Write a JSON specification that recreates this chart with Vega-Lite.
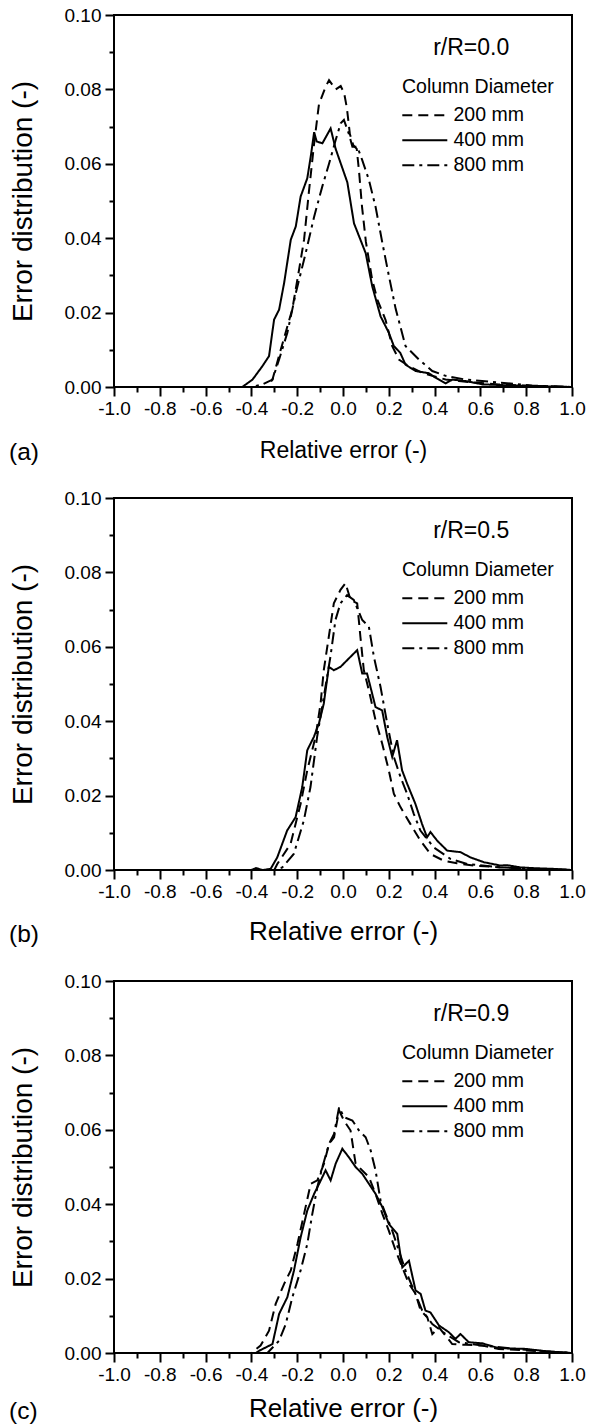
{
  "$schema": "https://vega.github.io/schema/vega-lite/v6.json",
  "background": "white",
  "padding": {"left": 8, "top": 5, "right": 5, "bottom": 5},
  "config": {
    "font": "Liberation Sans",
    "view": {"stroke": "black", "strokeWidth": 2},
    "axis": {"domain": false, "tickColor": "#000000", "tickWidth": 2, "tickSize": 9, "offset": 0, "labelColor": "black", "titleColor": "black", "grid": false, "labelFont": "Liberation Sans", "titleFont": "Liberation Sans", "titleFontWeight": "normal", "labelFontSize": 19, "labelFlush": false, "labelOverlap": false, "labelBound": false},
    "legend": {"orient": "none", "legendX": 288, "legendY": 63, "titleFont": "Liberation Sans", "titleFontSize": 19.5, "titleFontWeight": "normal", "titleColor": "black", "labelFont": "Liberation Sans", "labelFontSize": 19.5, "labelColor": "black", "symbolType": "M-2.1,0H7.9", "symbolSize": 81, "symbolStrokeWidth": 2, "symbolStrokeColor": "black", "labelOffset": 32, "rowPadding": 4, "titlePadding": 8, "padding": 0},
    "title": {"font": "Liberation Sans", "fontSize": 24.5, "fontWeight": "normal", "color": "black", "orient": "bottom", "anchor": "start", "frame": "bounds", "dy": -25}
  },
  "bounds": "flush",
  "spacing": 111,
  "resolve": {"legend": {"strokeDash": "independent"}},
  "datasets": {
    "a": [
      {"d": "200 mm", "x": -1.0, "y": 0}, {"d": "200 mm", "x": -0.33, "y": 0}, {"d": "200 mm", "x": -0.308, "y": 0.002}, {"d": "200 mm", "x": -0.272, "y": 0.010}, {"d": "200 mm", "x": -0.221, "y": 0.021}, {"d": "200 mm", "x": -0.192, "y": 0.0315}, {"d": "200 mm", "x": -0.17, "y": 0.0396}, {"d": "200 mm", "x": -0.148, "y": 0.053}, {"d": "200 mm", "x": -0.126, "y": 0.0655}, {"d": "200 mm", "x": -0.105, "y": 0.076}, {"d": "200 mm", "x": -0.076, "y": 0.0807}, {"d": "200 mm", "x": -0.061, "y": 0.0825}, {"d": "200 mm", "x": -0.032, "y": 0.080}, {"d": "200 mm", "x": -0.01, "y": 0.0809}, {"d": "200 mm", "x": 0.005, "y": 0.079}, {"d": "200 mm", "x": 0.017, "y": 0.075}, {"d": "200 mm", "x": 0.03, "y": 0.068}, {"d": "200 mm", "x": 0.045, "y": 0.065}, {"d": "200 mm", "x": 0.06, "y": 0.064}, {"d": "200 mm", "x": 0.07, "y": 0.058}, {"d": "200 mm", "x": 0.083, "y": 0.0485}, {"d": "200 mm", "x": 0.10, "y": 0.039}, {"d": "200 mm", "x": 0.127, "y": 0.029}, {"d": "200 mm", "x": 0.15, "y": 0.0235}, {"d": "200 mm", "x": 0.186, "y": 0.018}, {"d": "200 mm", "x": 0.215, "y": 0.011}, {"d": "200 mm", "x": 0.244, "y": 0.0074}, {"d": "200 mm", "x": 0.288, "y": 0.0056}, {"d": "200 mm", "x": 0.346, "y": 0.0038}, {"d": "200 mm", "x": 0.39, "y": 0.003}, {"d": "200 mm", "x": 0.448, "y": 0.002}, {"d": "200 mm", "x": 0.506, "y": 0.0016}, {"d": "200 mm", "x": 0.578, "y": 0.0012}, {"d": "200 mm", "x": 0.68, "y": 0.0007}, {"d": "200 mm", "x": 0.826, "y": 0.0003}, {"d": "200 mm", "x": 1.0, "y": 0},
      {"d": "400 mm", "x": -1.0, "y": 0}, {"d": "400 mm", "x": -0.44, "y": 0}, {"d": "400 mm", "x": -0.395, "y": 0.002}, {"d": "400 mm", "x": -0.352, "y": 0.0056}, {"d": "400 mm", "x": -0.323, "y": 0.0083}, {"d": "400 mm", "x": -0.301, "y": 0.0181}, {"d": "400 mm", "x": -0.279, "y": 0.0208}, {"d": "400 mm", "x": -0.257, "y": 0.028}, {"d": "400 mm", "x": -0.228, "y": 0.0396}, {"d": "400 mm", "x": -0.206, "y": 0.0432}, {"d": "400 mm", "x": -0.185, "y": 0.0512}, {"d": "400 mm", "x": -0.156, "y": 0.0561}, {"d": "400 mm", "x": -0.141, "y": 0.0619}, {"d": "400 mm", "x": -0.126, "y": 0.0685}, {"d": "400 mm", "x": -0.115, "y": 0.066}, {"d": "400 mm", "x": -0.09, "y": 0.0655}, {"d": "400 mm", "x": -0.054, "y": 0.0695}, {"d": "400 mm", "x": -0.032, "y": 0.064}, {"d": "400 mm", "x": 0.019, "y": 0.055}, {"d": "400 mm", "x": 0.048, "y": 0.044}, {"d": "400 mm", "x": 0.099, "y": 0.036}, {"d": "400 mm", "x": 0.128, "y": 0.027}, {"d": "400 mm", "x": 0.164, "y": 0.019}, {"d": "400 mm", "x": 0.20, "y": 0.0146}, {"d": "400 mm", "x": 0.222, "y": 0.011}, {"d": "400 mm", "x": 0.25, "y": 0.0092}, {"d": "400 mm", "x": 0.273, "y": 0.006}, {"d": "400 mm", "x": 0.317, "y": 0.0043}, {"d": "400 mm", "x": 0.375, "y": 0.0037}, {"d": "400 mm", "x": 0.404, "y": 0.0025}, {"d": "400 mm", "x": 0.448, "y": 0.001}, {"d": "400 mm", "x": 0.477, "y": 0.002}, {"d": "400 mm", "x": 0.535, "y": 0.0016}, {"d": "400 mm", "x": 0.61, "y": 0.0007}, {"d": "400 mm", "x": 0.75, "y": 0.0004}, {"d": "400 mm", "x": 1.0, "y": 0},
      {"d": "800 mm", "x": -1.0, "y": 0}, {"d": "800 mm", "x": -0.40, "y": 0}, {"d": "800 mm", "x": -0.352, "y": 0.0007}, {"d": "800 mm", "x": -0.308, "y": 0.002}, {"d": "800 mm", "x": -0.279, "y": 0.0074}, {"d": "800 mm", "x": -0.243, "y": 0.0146}, {"d": "800 mm", "x": -0.206, "y": 0.0253}, {"d": "800 mm", "x": -0.163, "y": 0.036}, {"d": "800 mm", "x": -0.126, "y": 0.0458}, {"d": "800 mm", "x": -0.09, "y": 0.054}, {"d": "800 mm", "x": -0.061, "y": 0.060}, {"d": "800 mm", "x": -0.032, "y": 0.0664}, {"d": "800 mm", "x": -0.01, "y": 0.0709}, {"d": "800 mm", "x": 0.004, "y": 0.0718}, {"d": "800 mm", "x": 0.026, "y": 0.068}, {"d": "800 mm", "x": 0.041, "y": 0.0646}, {"d": "800 mm", "x": 0.0625, "y": 0.0646}, {"d": "800 mm", "x": 0.084, "y": 0.061}, {"d": "800 mm", "x": 0.113, "y": 0.0557}, {"d": "800 mm", "x": 0.142, "y": 0.0485}, {"d": "800 mm", "x": 0.172, "y": 0.0387}, {"d": "800 mm", "x": 0.20, "y": 0.030}, {"d": "800 mm", "x": 0.23, "y": 0.021}, {"d": "800 mm", "x": 0.273, "y": 0.011}, {"d": "800 mm", "x": 0.331, "y": 0.0074}, {"d": "800 mm", "x": 0.39, "y": 0.0043}, {"d": "800 mm", "x": 0.448, "y": 0.003}, {"d": "800 mm", "x": 0.535, "y": 0.002}, {"d": "800 mm", "x": 0.68, "y": 0.0012}, {"d": "800 mm", "x": 0.826, "y": 0.0004}, {"d": "800 mm", "x": 1.0, "y": 0}
    ],
    "b": [
      {"d": "200 mm", "x": -1.0, "y": 0}, {"d": "200 mm", "x": -0.30, "y": 0}, {"d": "200 mm", "x": -0.287, "y": 0.0016}, {"d": "200 mm", "x": -0.229, "y": 0.007}, {"d": "200 mm", "x": -0.185, "y": 0.0178}, {"d": "200 mm", "x": -0.156, "y": 0.0268}, {"d": "200 mm", "x": -0.12, "y": 0.0358}, {"d": "200 mm", "x": -0.098, "y": 0.0447}, {"d": "200 mm", "x": -0.084, "y": 0.0537}, {"d": "200 mm", "x": -0.062, "y": 0.0627}, {"d": "200 mm", "x": -0.04, "y": 0.0717}, {"d": "200 mm", "x": -0.011, "y": 0.0753}, {"d": "200 mm", "x": 0.011, "y": 0.0771}, {"d": "200 mm", "x": 0.033, "y": 0.0726}, {"d": "200 mm", "x": 0.062, "y": 0.0717}, {"d": "200 mm", "x": 0.076, "y": 0.0627}, {"d": "200 mm", "x": 0.091, "y": 0.0537}, {"d": "200 mm", "x": 0.113, "y": 0.0483}, {"d": "200 mm", "x": 0.142, "y": 0.0403}, {"d": "200 mm", "x": 0.171, "y": 0.034}, {"d": "200 mm", "x": 0.2, "y": 0.0268}, {"d": "200 mm", "x": 0.222, "y": 0.0205}, {"d": "200 mm", "x": 0.251, "y": 0.0169}, {"d": "200 mm", "x": 0.294, "y": 0.0124}, {"d": "200 mm", "x": 0.338, "y": 0.0079}, {"d": "200 mm", "x": 0.382, "y": 0.0043}, {"d": "200 mm", "x": 0.44, "y": 0.0025}, {"d": "200 mm", "x": 0.498, "y": 0.0018}, {"d": "200 mm", "x": 0.571, "y": 0.0012}, {"d": "200 mm", "x": 0.687, "y": 0.0007}, {"d": "200 mm", "x": 0.833, "y": 0.0003}, {"d": "200 mm", "x": 1.0, "y": 0},
      {"d": "400 mm", "x": -1.0, "y": 0}, {"d": "400 mm", "x": -0.40, "y": 0}, {"d": "400 mm", "x": -0.38, "y": 0.0005}, {"d": "400 mm", "x": -0.35, "y": 0}, {"d": "400 mm", "x": -0.316, "y": 0.0003}, {"d": "400 mm", "x": -0.287, "y": 0.0034}, {"d": "400 mm", "x": -0.244, "y": 0.0106}, {"d": "400 mm", "x": -0.207, "y": 0.0142}, {"d": "400 mm", "x": -0.178, "y": 0.0223}, {"d": "400 mm", "x": -0.156, "y": 0.0322}, {"d": "400 mm", "x": -0.127, "y": 0.0358}, {"d": "400 mm", "x": -0.105, "y": 0.0394}, {"d": "400 mm", "x": -0.084, "y": 0.0447}, {"d": "400 mm", "x": -0.062, "y": 0.0546}, {"d": "400 mm", "x": -0.04, "y": 0.0537}, {"d": "400 mm", "x": -0.011, "y": 0.0546}, {"d": "400 mm", "x": 0.018, "y": 0.0564}, {"d": "400 mm", "x": 0.062, "y": 0.0591}, {"d": "400 mm", "x": 0.084, "y": 0.0528}, {"d": "400 mm", "x": 0.105, "y": 0.0528}, {"d": "400 mm", "x": 0.12, "y": 0.0492}, {"d": "400 mm", "x": 0.142, "y": 0.0438}, {"d": "400 mm", "x": 0.171, "y": 0.0429}, {"d": "400 mm", "x": 0.193, "y": 0.0358}, {"d": "400 mm", "x": 0.215, "y": 0.0304}, {"d": "400 mm", "x": 0.236, "y": 0.0349}, {"d": "400 mm", "x": 0.258, "y": 0.0268}, {"d": "400 mm", "x": 0.28, "y": 0.0232}, {"d": "400 mm", "x": 0.316, "y": 0.0178}, {"d": "400 mm", "x": 0.345, "y": 0.0124}, {"d": "400 mm", "x": 0.367, "y": 0.0088}, {"d": "400 mm", "x": 0.382, "y": 0.0102}, {"d": "400 mm", "x": 0.411, "y": 0.0079}, {"d": "400 mm", "x": 0.455, "y": 0.0052}, {"d": "400 mm", "x": 0.513, "y": 0.0048}, {"d": "400 mm", "x": 0.556, "y": 0.0034}, {"d": "400 mm", "x": 0.615, "y": 0.0021}, {"d": "400 mm", "x": 0.687, "y": 0.0012}, {"d": "400 mm", "x": 0.716, "y": 0.0013}, {"d": "400 mm", "x": 0.775, "y": 0.0007}, {"d": "400 mm", "x": 0.833, "y": 0.0005}, {"d": "400 mm", "x": 0.92, "y": 0.0003}, {"d": "400 mm", "x": 1.0, "y": 0},
      {"d": "800 mm", "x": -1.0, "y": 0}, {"d": "800 mm", "x": -0.30, "y": 0}, {"d": "800 mm", "x": -0.265, "y": 0.0007}, {"d": "800 mm", "x": -0.215, "y": 0.0043}, {"d": "800 mm", "x": -0.171, "y": 0.0133}, {"d": "800 mm", "x": -0.142, "y": 0.0223}, {"d": "800 mm", "x": -0.113, "y": 0.0358}, {"d": "800 mm", "x": -0.084, "y": 0.0465}, {"d": "800 mm", "x": -0.055, "y": 0.0573}, {"d": "800 mm", "x": -0.033, "y": 0.0672}, {"d": "800 mm", "x": -0.011, "y": 0.0717}, {"d": "800 mm", "x": 0.018, "y": 0.0739}, {"d": "800 mm", "x": 0.047, "y": 0.0726}, {"d": "800 mm", "x": 0.084, "y": 0.0672}, {"d": "800 mm", "x": 0.113, "y": 0.0654}, {"d": "800 mm", "x": 0.135, "y": 0.0573}, {"d": "800 mm", "x": 0.164, "y": 0.0492}, {"d": "800 mm", "x": 0.193, "y": 0.0394}, {"d": "800 mm", "x": 0.222, "y": 0.0304}, {"d": "800 mm", "x": 0.251, "y": 0.025}, {"d": "800 mm", "x": 0.28, "y": 0.0205}, {"d": "800 mm", "x": 0.309, "y": 0.0151}, {"d": "800 mm", "x": 0.338, "y": 0.0106}, {"d": "800 mm", "x": 0.396, "y": 0.0061}, {"d": "800 mm", "x": 0.469, "y": 0.003}, {"d": "800 mm", "x": 0.542, "y": 0.0016}, {"d": "800 mm", "x": 0.687, "y": 0.0007}, {"d": "800 mm", "x": 0.833, "y": 0.0003}, {"d": "800 mm", "x": 1.0, "y": 0}
    ],
    "c": [
      {"d": "200 mm", "x": -1.0, "y": 0}, {"d": "200 mm", "x": -0.40, "y": 0}, {"d": "200 mm", "x": -0.36, "y": 0.002}, {"d": "200 mm", "x": -0.323, "y": 0.006}, {"d": "200 mm", "x": -0.294, "y": 0.0132}, {"d": "200 mm", "x": -0.257, "y": 0.0186}, {"d": "200 mm", "x": -0.228, "y": 0.0222}, {"d": "200 mm", "x": -0.199, "y": 0.0293}, {"d": "200 mm", "x": -0.17, "y": 0.0374}, {"d": "200 mm", "x": -0.141, "y": 0.0455}, {"d": "200 mm", "x": -0.112, "y": 0.0464}, {"d": "200 mm", "x": -0.083, "y": 0.0509}, {"d": "200 mm", "x": -0.061, "y": 0.0562}, {"d": "200 mm", "x": -0.039, "y": 0.058}, {"d": "200 mm", "x": -0.017, "y": 0.0652}, {"d": "200 mm", "x": 0.004, "y": 0.0625}, {"d": "200 mm", "x": 0.033, "y": 0.0598}, {"d": "200 mm", "x": 0.055, "y": 0.0509}, {"d": "200 mm", "x": 0.084, "y": 0.0491}, {"d": "200 mm", "x": 0.113, "y": 0.0473}, {"d": "200 mm", "x": 0.142, "y": 0.0428}, {"d": "200 mm", "x": 0.172, "y": 0.0374}, {"d": "200 mm", "x": 0.2, "y": 0.0329}, {"d": "200 mm", "x": 0.23, "y": 0.0275}, {"d": "200 mm", "x": 0.259, "y": 0.023}, {"d": "200 mm", "x": 0.288, "y": 0.0186}, {"d": "200 mm", "x": 0.317, "y": 0.0159}, {"d": "200 mm", "x": 0.339, "y": 0.0114}, {"d": "200 mm", "x": 0.368, "y": 0.0096}, {"d": "200 mm", "x": 0.39, "y": 0.0051}, {"d": "200 mm", "x": 0.419, "y": 0.0069}, {"d": "200 mm", "x": 0.477, "y": 0.0024}, {"d": "200 mm", "x": 0.535, "y": 0.0022}, {"d": "200 mm", "x": 0.608, "y": 0.002}, {"d": "200 mm", "x": 0.68, "y": 0.0011}, {"d": "200 mm", "x": 0.826, "y": 0.0006}, {"d": "200 mm", "x": 1.0, "y": 0},
      {"d": "400 mm", "x": -1.0, "y": 0}, {"d": "400 mm", "x": -0.38, "y": 0}, {"d": "400 mm", "x": -0.366, "y": 0.0006}, {"d": "400 mm", "x": -0.308, "y": 0.0024}, {"d": "400 mm", "x": -0.279, "y": 0.0105}, {"d": "400 mm", "x": -0.243, "y": 0.015}, {"d": "400 mm", "x": -0.214, "y": 0.0222}, {"d": "400 mm", "x": -0.185, "y": 0.0311}, {"d": "400 mm", "x": -0.156, "y": 0.0383}, {"d": "400 mm", "x": -0.126, "y": 0.0428}, {"d": "400 mm", "x": -0.097, "y": 0.0464}, {"d": "400 mm", "x": -0.076, "y": 0.0491}, {"d": "400 mm", "x": -0.054, "y": 0.0464}, {"d": "400 mm", "x": -0.032, "y": 0.0509}, {"d": "400 mm", "x": -0.003, "y": 0.0549}, {"d": "400 mm", "x": 0.026, "y": 0.0526}, {"d": "400 mm", "x": 0.055, "y": 0.05}, {"d": "400 mm", "x": 0.084, "y": 0.0482}, {"d": "400 mm", "x": 0.113, "y": 0.0455}, {"d": "400 mm", "x": 0.142, "y": 0.0428}, {"d": "400 mm", "x": 0.172, "y": 0.0392}, {"d": "400 mm", "x": 0.2, "y": 0.0347}, {"d": "400 mm", "x": 0.237, "y": 0.032}, {"d": "400 mm", "x": 0.259, "y": 0.023}, {"d": "400 mm", "x": 0.288, "y": 0.0248}, {"d": "400 mm", "x": 0.317, "y": 0.0168}, {"d": "400 mm", "x": 0.339, "y": 0.0159}, {"d": "400 mm", "x": 0.36, "y": 0.0114}, {"d": "400 mm", "x": 0.382, "y": 0.0109}, {"d": "400 mm", "x": 0.419, "y": 0.0074}, {"d": "400 mm", "x": 0.462, "y": 0.0056}, {"d": "400 mm", "x": 0.491, "y": 0.0038}, {"d": "400 mm", "x": 0.513, "y": 0.0051}, {"d": "400 mm", "x": 0.549, "y": 0.0029}, {"d": "400 mm", "x": 0.608, "y": 0.0026}, {"d": "400 mm", "x": 0.68, "y": 0.0013}, {"d": "400 mm", "x": 0.797, "y": 0.0011}, {"d": "400 mm", "x": 0.898, "y": 0.0004}, {"d": "400 mm", "x": 1.0, "y": 0},
      {"d": "800 mm", "x": -1.0, "y": 0}, {"d": "800 mm", "x": -0.33, "y": 0}, {"d": "800 mm", "x": -0.279, "y": 0.0033}, {"d": "800 mm", "x": -0.25, "y": 0.0078}, {"d": "800 mm", "x": -0.221, "y": 0.015}, {"d": "800 mm", "x": -0.185, "y": 0.0222}, {"d": "800 mm", "x": -0.156, "y": 0.0293}, {"d": "800 mm", "x": -0.134, "y": 0.0374}, {"d": "800 mm", "x": -0.112, "y": 0.0446}, {"d": "800 mm", "x": -0.09, "y": 0.05}, {"d": "800 mm", "x": -0.061, "y": 0.0562}, {"d": "800 mm", "x": -0.039, "y": 0.0589}, {"d": "800 mm", "x": -0.017, "y": 0.0661}, {"d": "800 mm", "x": 0.004, "y": 0.0634}, {"d": "800 mm", "x": 0.041, "y": 0.0625}, {"d": "800 mm", "x": 0.07, "y": 0.0598}, {"d": "800 mm", "x": 0.099, "y": 0.058}, {"d": "800 mm", "x": 0.121, "y": 0.0544}, {"d": "800 mm", "x": 0.142, "y": 0.0491}, {"d": "800 mm", "x": 0.164, "y": 0.041}, {"d": "800 mm", "x": 0.186, "y": 0.0374}, {"d": "800 mm", "x": 0.215, "y": 0.0329}, {"d": "800 mm", "x": 0.244, "y": 0.0275}, {"d": "800 mm", "x": 0.273, "y": 0.0222}, {"d": "800 mm", "x": 0.31, "y": 0.0168}, {"d": "800 mm", "x": 0.346, "y": 0.0114}, {"d": "800 mm", "x": 0.39, "y": 0.0078}, {"d": "800 mm", "x": 0.448, "y": 0.0051}, {"d": "800 mm", "x": 0.506, "y": 0.0029}, {"d": "800 mm", "x": 0.608, "y": 0.002}, {"d": "800 mm", "x": 0.753, "y": 0.0011}, {"d": "800 mm", "x": 0.898, "y": 0.0004}, {"d": "800 mm", "x": 1.0, "y": 0}
    ]
  },
  "vconcat": [
    {
      "width": 458, "height": 372,
      "data": {"name": "a"},
      "title": {"text": "(a)"},
      "resolve": {"axis": {"x": "independent", "y": "independent"}},
      "layer": [
        {"mark": {"type": "line", "color": "black", "strokeWidth": 2},
         "encoding": {
           "x": {"field": "x", "type": "quantitative", "scale": {"domain": [-1, 1], "nice": false}, "axis": {"orient": "bottom", "title": "Relative error (-)", "titleFontSize": 23, "titlePadding": 21, "values": [-1, -0.8, -0.6, -0.4, -0.2, 0, 0.2, 0.4, 0.6, 0.8, 1], "labelExpr": "replace(format(datum.value, '.1f'), '\u2212', '-')", "labelPadding": 3}},
           "y": {"field": "y", "type": "quantitative", "scale": {"domain": [0, 0.1], "nice": false}, "axis": {"orient": "left", "title": "Error distribution (-)", "titleFontSize": 28, "titlePadding": 27, "values": [0, 0.02, 0.04, 0.06, 0.08, 0.1], "format": ".2f", "labelPadding": 4}},
           "strokeDash": {"field": "d", "type": "nominal", "scale": {"domain": ["200 mm", "400 mm", "800 mm"], "range": [[10, 6], [1, 0], [12, 5, 3, 5]]}, "legend": {"title": "Column Diameter"}}
         }},
        {"data": {"values": [{"label": "r/R=0.0"}]},
         "mark": {"type": "text", "fontSize": 23, "color": "black", "font": "Liberation Sans"},
         "encoding": {
           "x": {"datum": 0.56, "type": "quantitative", "axis": {"orient": "bottom", "title": null, "labels": false, "tickSize": 5, "values": [-0.9, -0.7, -0.5, -0.3, -0.1, 0.1, 0.3, 0.5, 0.7, 0.9]}},
           "y": {"datum": 0.091, "type": "quantitative", "axis": {"orient": "left", "title": null, "labels": false, "tickSize": 5, "values": [0.01, 0.03, 0.05, 0.07, 0.09]}},
           "text": {"field": "label"}}}
      ]
    },
    {
      "width": 458, "height": 372,
      "data": {"name": "b"},
      "title": {"text": "(b)"},
      "resolve": {"axis": {"x": "independent", "y": "independent"}},
      "layer": [
        {"mark": {"type": "line", "color": "black", "strokeWidth": 2},
         "encoding": {
           "x": {"field": "x", "type": "quantitative", "scale": {"domain": [-1, 1], "nice": false}, "axis": {"orient": "bottom", "title": "Relative error (-)", "titleFontSize": 26, "titlePadding": 17, "values": [-1, -0.8, -0.6, -0.4, -0.2, 0, 0.2, 0.4, 0.6, 0.8, 1], "labelExpr": "replace(format(datum.value, '.1f'), '\u2212', '-')", "labelPadding": 3}},
           "y": {"field": "y", "type": "quantitative", "scale": {"domain": [0, 0.1], "nice": false}, "axis": {"orient": "left", "title": "Error distribution (-)", "titleFontSize": 28, "titlePadding": 27, "values": [0, 0.02, 0.04, 0.06, 0.08, 0.1], "format": ".2f", "labelPadding": 4}},
           "strokeDash": {"field": "d", "type": "nominal", "scale": {"domain": ["200 mm", "400 mm", "800 mm"], "range": [[10, 6], [1, 0], [12, 5, 3, 5]]}, "legend": {"title": "Column Diameter"}}
         }},
        {"data": {"values": [{"label": "r/R=0.5"}]},
         "mark": {"type": "text", "fontSize": 23, "color": "black", "font": "Liberation Sans"},
         "encoding": {
           "x": {"datum": 0.56, "type": "quantitative", "axis": {"orient": "bottom", "title": null, "labels": false, "tickSize": 5, "values": [-0.9, -0.7, -0.5, -0.3, -0.1, 0.1, 0.3, 0.5, 0.7, 0.9]}},
           "y": {"datum": 0.091, "type": "quantitative", "axis": {"orient": "left", "title": null, "labels": false, "tickSize": 5, "values": [0.01, 0.03, 0.05, 0.07, 0.09]}},
           "text": {"field": "label"}}}
      ]
    },
    {
      "width": 458, "height": 372,
      "data": {"name": "c"},
      "title": {"text": "(c)"},
      "resolve": {"axis": {"x": "independent", "y": "independent"}},
      "layer": [
        {"mark": {"type": "line", "color": "black", "strokeWidth": 2},
         "encoding": {
           "x": {"field": "x", "type": "quantitative", "scale": {"domain": [-1, 1], "nice": false}, "axis": {"orient": "bottom", "title": "Relative error (-)", "titleFontSize": 26, "titlePadding": 11, "values": [-1, -0.8, -0.6, -0.4, -0.2, 0, 0.2, 0.4, 0.6, 0.8, 1], "labelExpr": "replace(format(datum.value, '.1f'), '\u2212', '-')", "labelPadding": 3}},
           "y": {"field": "y", "type": "quantitative", "scale": {"domain": [0, 0.1], "nice": false}, "axis": {"orient": "left", "title": "Error distribution (-)", "titleFontSize": 28, "titlePadding": 27, "values": [0, 0.02, 0.04, 0.06, 0.08, 0.1], "format": ".2f", "labelPadding": 4}},
           "strokeDash": {"field": "d", "type": "nominal", "scale": {"domain": ["200 mm", "400 mm", "800 mm"], "range": [[10, 6], [1, 0], [12, 5, 3, 5]]}, "legend": {"title": "Column Diameter"}}
         }},
        {"data": {"values": [{"label": "r/R=0.9"}]},
         "mark": {"type": "text", "fontSize": 23, "color": "black", "font": "Liberation Sans"},
         "encoding": {
           "x": {"datum": 0.56, "type": "quantitative", "axis": {"orient": "bottom", "title": null, "labels": false, "tickSize": 5, "values": [-0.9, -0.7, -0.5, -0.3, -0.1, 0.1, 0.3, 0.5, 0.7, 0.9]}},
           "y": {"datum": 0.091, "type": "quantitative", "axis": {"orient": "left", "title": null, "labels": false, "tickSize": 5, "values": [0.01, 0.03, 0.05, 0.07, 0.09]}},
           "text": {"field": "label"}}}
      ]
    }
  ]
}
